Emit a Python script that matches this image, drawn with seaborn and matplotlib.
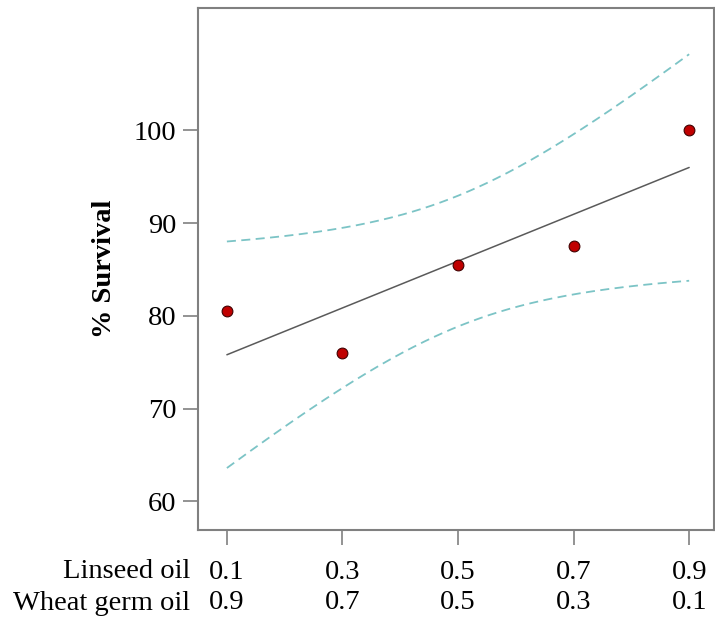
import numpy as np
import pandas as pd
import matplotlib
matplotlib.use("Agg")
import matplotlib.pyplot as plt
import seaborn as sns

linseed = [0.1, 0.3, 0.5, 0.7, 0.9]
wheat_germ = [0.9, 0.7, 0.5, 0.3, 0.1]
survival = [80.5, 76.0, 85.5, 87.5, 100.0]
y_ticks = [60, 70, 80, 90, 100]

sns.set_theme(style="white")
plt.rcParams['font.family'] = ['Liberation Serif', 'DejaVu Serif']
plt.rcParams['text.color'] = 'black'
plt.rcParams['xtick.color'] = 'black'
plt.rcParams['ytick.color'] = 'black'
plt.rcParams['axes.labelcolor'] = 'black'

df = pd.DataFrame({"x": linseed, "y": survival})

# linear fit and analytic 95% confidence band for the mean
x = np.array(linseed); y = np.array(survival)
n = len(x)
b1, b0 = np.polyfit(x, y, 1)
resid = y - (b0 + b1 * x)
s = np.sqrt(np.sum(resid**2) / (n - 2))
tval = 3.182446  # t(0.975, df=3)
xg = np.linspace(min(x), max(x), 200)
yg = b0 + b1 * xg
se = s * np.sqrt(1 / n + (xg - x.mean())**2 / np.sum((x - x.mean())**2))
fit = pd.DataFrame({"x": xg, "fit": yg, "lo": yg - tval * se, "hi": yg + tval * se})

FS = 20.5

fig = plt.figure(figsize=(7.15, 6.19), dpi=100)
ax = fig.add_axes([198/715, 1 - 530/619, (714 - 198)/715, (530 - 8)/619])

sns.lineplot(data=fit, x="x", y="fit", ax=ax, color="#5a5a5a", lw=1.1)
sns.lineplot(data=fit, x="x", y="hi", ax=ax, color="#7cc4c6", lw=1.3, linestyle=(0, (5, 3)))
sns.lineplot(data=fit, x="x", y="lo", ax=ax, color="#7cc4c6", lw=1.3, linestyle=(0, (5, 3)))
sns.scatterplot(data=df, x="x", y="y", ax=ax, color="#c00000", edgecolor="#400000",
                s=60, linewidth=0.8, zorder=5)

ax.set_xlim(0.05, 0.943)
ax.set_ylim(56.9, 113.2)
ax.set_yticks(y_ticks)
ax.set_yticklabels([str(v) for v in y_ticks], fontsize=FS)
ax.set_xticks(linseed)
ax.set_xticklabels([f"{a}\n{b}" for a, b in zip(linseed, wheat_germ)], fontsize=FS,
                   linespacing=1.27)
ax.tick_params(axis="both", direction="out", length=10.5, width=1.2, color="#808080",
               left=True, bottom=True)
ax.tick_params(axis="y", pad=5)
ax.tick_params(axis="x", pad=11)
for sp in ax.spines.values():
    sp.set_color("#808080")
    sp.set_linewidth(1.5)
    sp.set_visible(True)

ax.set_xlabel("")
ax.set_ylabel("% Survival", fontsize=FS, fontweight="bold", labelpad=12)

fig.text(190/715, 1 - 571/619, "Linseed oil", ha="right", va="center", fontsize=FS)
fig.text(190/715, 1 - 603/619, "Wheat germ oil", ha="right", va="center", fontsize=FS)

fig.savefig("out.png", dpi=100)
